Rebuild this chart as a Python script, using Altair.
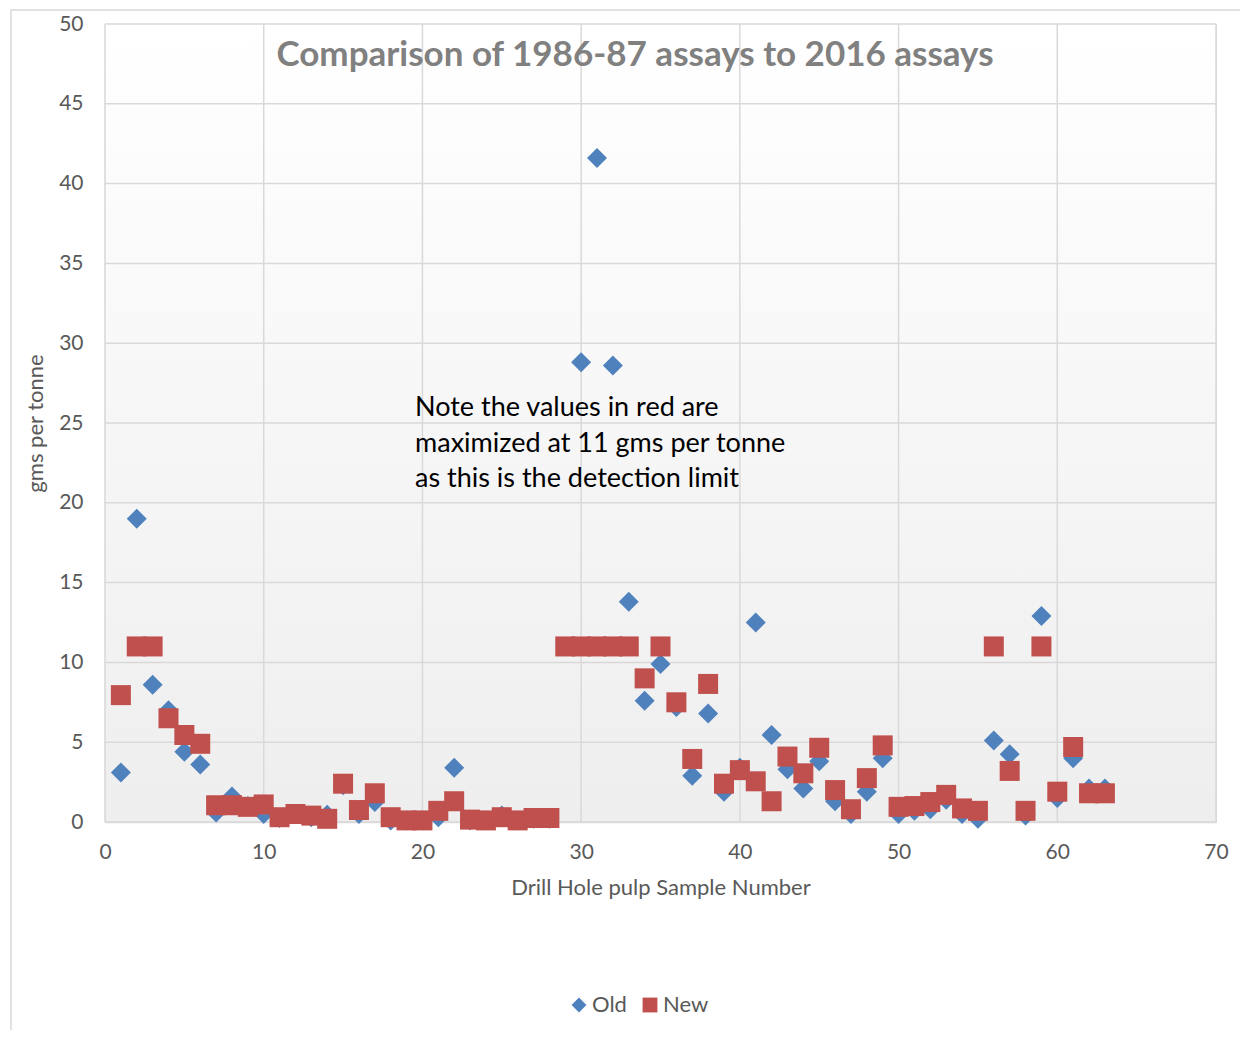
import altair as alt
import pandas as pd

sample = list(range(1, 64))
old_vals = [3.1, 19.0, 8.6, 7.0, 4.4, 3.6, 0.6, 1.6, 1.0, 0.5,
            0.25, 0.5, 0.3, 0.45, 2.3, 0.5, 1.25, 0.1, 0.1, 0.1,
            0.3, 3.4, 0.1, 0.1, 0.4, 0.1, 0.2, 0.2, 11.0, 28.8,
            41.6, 28.6, 13.8, 7.6, 9.9, 7.2, 2.9, 6.8, 1.9, 3.4,
            12.5, 5.45, 3.3, 2.1, 3.8, 1.3, 0.5, 1.9, 4.0, 0.5,
            0.7, 0.8, 1.4, 0.5, 0.2, 5.1, 4.25, 0.4, 12.9, 1.5,
            4.0, 2.1, 2.1]
new_vals = [7.95, 11, 11, 6.5, 5.45, 4.9, 1.05, 1.05, 0.95, 1.1,
            0.3, 0.5, 0.4, 0.2, 2.4, 0.75, 1.8, 0.3, 0.1, 0.1,
            0.7, 1.3, 0.15, 0.1, 0.3, 0.1, 0.25, 0.25, 11, 11,
            11, 11, 11, 9.0, 11, 7.5, 3.95, 8.65, 2.4, 3.25,
            2.55, 1.3, 4.1, 3.05, 4.65, 2.0, 0.8, 2.75, 4.8, 0.95,
            1.0, 1.25, 1.7, 0.85, 0.7, 11, 3.2, 0.7, 11, 1.9,
            4.7, 1.8, 1.8]
series_names = ["Old", "New"]
series_colors = ["#4F81BD", "#C0504D"]
series_shapes = ["diamond", "square"]
x_ticks = list(range(0, 71, 10))
y_ticks = list(range(0, 51, 5))

title_text = "Comparison of 1986-87 assays to 2016 assays"
note_lines = ["Note the values in red are",
              "maximized at 11 gms per tonne",
              "as this is the detection limit"]

df = pd.DataFrame(
    [{"sample": s, "value": v, "series": "Old", "ord": 0} for s, v in zip(sample, old_vals)]
    + [{"sample": s, "value": v, "series": "New", "ord": 1} for s, v in zip(sample, new_vals)]
)

FONT = "Lato"
GREY = "#595959"
GRID = "#d9d9d9"
W, H = 1111, 798

xscale = alt.Scale(domain=[0, 70], nice=False)
yscale = alt.Scale(domain=[0, 50], nice=False)

bg = alt.Chart(alt.Data(values=[{}])).mark_rect(
    color=alt.LinearGradient(gradient="linear",
                             stops=[alt.GradientStop(color="#ffffff", offset=0),
                                    alt.GradientStop(color="#eeeeee", offset=1)],
                             x1=0, y1=0, x2=0, y2=1)
).encode(x=alt.value(0), x2=alt.value(W), y=alt.value(0), y2=alt.value(H))

vgrid = alt.Chart(pd.DataFrame({"t": x_ticks})).mark_rule(
    color=GRID, strokeWidth=1.5).encode(x=alt.X("t:Q", scale=xscale))
hgrid = alt.Chart(pd.DataFrame({"t": y_ticks})).mark_rule(
    color=GRID, strokeWidth=1.5).encode(y=alt.Y("t:Q", scale=yscale))

points = alt.Chart(df).mark_point(filled=True, size=400, opacity=1).encode(
    x=alt.X("sample:Q", scale=xscale,
            axis=alt.Axis(values=x_ticks, title="Drill Hole pulp Sample Number")),
    y=alt.Y("value:Q", scale=yscale,
            axis=alt.Axis(values=y_ticks, title="gms per tonne")),
    color=alt.Color("series:N", scale=alt.Scale(domain=series_names, range=series_colors),
                    legend=alt.Legend(title=None, orient="none", direction="horizontal",
                                      legendX=463, legendY=970)),
    shape=alt.Shape("series:N", scale=alt.Scale(domain=series_names, range=series_shapes)),
    order=alt.Order("ord:Q"),
)

title = alt.Chart(alt.Data(values=[{}])).mark_text(
    text=title_text, font=FONT, fontSize=35, fontWeight="bold", color="#808080",
    align="center", baseline="alphabetic"
).encode(x=alt.value(530), y=alt.value(42))

note = alt.Chart(alt.Data(values=[{}])).mark_text(
    text=note_lines, font=FONT, fontSize=27, color="#000000",
    align="left", baseline="alphabetic", lineHeight=35.5
).encode(x=alt.value(310), y=alt.value(392))

border = alt.Chart(alt.Data(values=[{}])).mark_rect(
    fill=None, stroke="#d9d9d9", strokeWidth=1.5
).encode(x=alt.value(-94), x2=alt.value(1160), y=alt.value(-14), y2=alt.value(1060))

chart = alt.layer(border, bg, vgrid, hgrid, points, title, note).properties(
    width=W, height=H,
    autosize=alt.AutoSizeParams(type="none"),
    padding={"left": 97, "top": 16, "right": 24, "bottom": 208},
    background="#ffffff",
).configure_view(
    stroke=GRID,
).configure_axis(
    grid=False, labelFlush=False,
    domainColor=GRID, domainWidth=1.5,
    ticks=False, labelFont=FONT, labelFontSize=21, labelColor=GREY,
    titleFont=FONT, titleFontSize=22, titleColor=GREY, titleFontWeight="normal",
).configure_axisX(
    labelPadding=19, titlePadding=15,
).configure_axisY(
    labelPadding=22, titlePadding=11,
).configure_legend(
    labelFont=FONT, labelFontSize=22, labelColor=GREY, symbolSize=220,
    symbolStrokeWidth=0, columnPadding=12, labelOffset=2,
)

chart.save("out.html", embed_options={"renderer": "svg", "actions": False})
